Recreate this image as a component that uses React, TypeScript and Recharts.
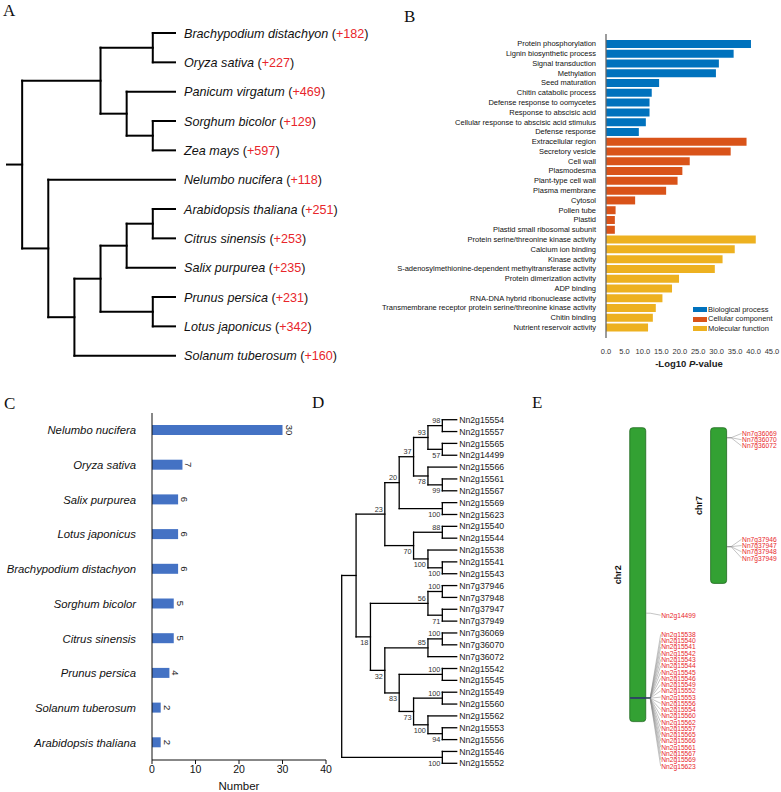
import React from "react"
import {
  BarChart, ComposedChart, Bar, XAxis, YAxis, Scatter,
  ReferenceLine, LabelList, Legend, Cell,
} from "recharts"

const FONT = "'Liberation Sans', Arial, sans-serif"

// ---------- A: species cladogram with gene gains
const A_SPECIES = [
  "Brachypodium distachyon", "Oryza sativa", "Panicum virgatum", "Sorghum bicolor",
  "Zea mays", "Nelumbo nucifera", "Arabidopsis thaliana", "Citrus sinensis",
  "Salix purpurea", "Prunus persica", "Lotus japonicus", "Solanum tuberosum",
]
const A_GAINS = [182, 227, 469, 129, 597, 118, 251, 253, 235, 231, 342, 160]

type TreeNode = { d: number; s?: number; c: (TreeNode | number)[] }

// d = node depth (column), leaves are indices into the species list
const A_TREE: TreeNode = {
  d: 0, c: [
    { d: 3, c: [{ d: 5, c: [0, 1] }, { d: 4, c: [2, { d: 5, c: [3, 4] }] }] },
    { d: 1, c: [5, { d: 2, c: [
      { d: 3, c: [{ d: 4, c: [{ d: 5, c: [6, 7] }, 8] }, { d: 5, c: [9, 10] }] },
      11,
    ] }] },
  ],
}
const A_LEAF_DEPTH = 5.85
const A_ROOT_STUB = -0.58

// ---------- B: GO enrichment
const B_TERMS = [
  "Protein phosphorylation", "Lignin biosynthetic process", "Signal transduction", "Methylation",
  "Seed maturation", "Chitin catabolic process", "Defense response to oomycetes",
  "Response to abscisic acid", "Cellular response to abscisic acid stimulus", "Defense response",
  "Extracellular region", "Secretory vesicle", "Cell wall", "Plasmodesma", "Plant-type cell wall",
  "Plasma membrane", "Cytosol", "Pollen tube", "Plastid", "Plastid small ribosomal subunit",
  "Protein serine/threonine kinase activity", "Calcium ion binding", "Kinase activity",
  "S-adenosylmethionine-dependent methyltransferase activity", "Protein dimerization activity",
  "ADP binding", "RNA-DNA hybrid ribonuclease activity",
  "Transmembrane receptor protein serine/threonine kinase activity", "Chitin binding",
  "Nutrient reservoir activity",
]
const B_VALUES = [
  39.3, 34.6, 30.6, 29.8, 14.4, 12.4, 11.8, 11.8, 10.8, 8.9,
  38.1, 33.8, 22.7, 20.7, 19.4, 16.3, 7.9, 2.6, 2.4, 2.4,
  40.6, 34.9, 31.6, 29.5, 19.8, 17.9, 15.3, 13.5, 12.7, 11.4,
]
const B_GROUPS = [
  0, 0, 0, 0, 0, 0, 0, 0, 0, 0,
  1, 1, 1, 1, 1, 1, 1, 1, 1, 1,
  2, 2, 2, 2, 2, 2, 2, 2, 2, 2,
]
const B_GROUP_LABELS = ["Biological process", "Cellular component", "Molecular function"]
const B_COLORS = ["#0072BD", "#D95319", "#EDB120"]
const B_TICKS = [0, 5, 10, 15, 20, 25, 30, 35, 40, 45]

// ---------- C: gene counts per species
const C_SPECIES = [
  "Nelumbo nucifera", "Oryza sativa", "Salix purpurea", "Lotus japonicus",
  "Brachypodium distachyon", "Sorghum bicolor", "Citrus sinensis", "Prunus persica",
  "Solanum tuberosum", "Arabidopsis thaliana",
]
const C_COUNTS = [30, 7, 6, 6, 6, 5, 5, 4, 2, 2]
const C_TICKS = [0, 10, 20, 30, 40]

// ---------- D: gene tree with bootstrap values
const D_GENES = [
  "Nn2g15554", "Nn2g15557", "Nn2g15565", "Nn2g14499", "Nn2g15566", "Nn2g15561",
  "Nn2g15567", "Nn2g15569", "Nn2g15623", "Nn2g15540", "Nn2g15544", "Nn2g15538",
  "Nn2g15541", "Nn2g15543", "Nn7g37946", "Nn7g37948", "Nn7g37947", "Nn7g37949",
  "Nn7g36069", "Nn7g36070", "Nn7g36072", "Nn2g15542", "Nn2g15545", "Nn2g15549",
  "Nn2g15560", "Nn2g15562", "Nn2g15553", "Nn2g15556", "Nn2g15546", "Nn2g15552",
]
const D_TREE: TreeNode = {
  d: 0, c: [
    { d: 1, c: [
      { d: 3, s: 23, c: [
        { d: 4, s: 20, c: [
          { d: 5, s: 37, c: [
            { d: 6, s: 93, c: [{ d: 7, s: 98, c: [0, 1] }, { d: 7, s: 57, c: [2, 3] }] },
            { d: 6, s: 78, c: [4, { d: 7, s: 99, c: [5, 6] }] },
          ] },
          { d: 7, s: 100, c: [7, 8] },
        ] },
        { d: 5, s: 70, c: [
          { d: 7, s: 88, c: [9, 10] },
          { d: 6, s: 100, c: [11, { d: 7, s: 100, c: [12, 13] }] },
        ] },
      ] },
      { d: 2, s: 18, c: [
        { d: 6, s: 56, c: [{ d: 7, s: 100, c: [14, 15] }, { d: 7, s: 71, c: [16, 17] }] },
        { d: 3, s: 32, c: [
          { d: 6, s: 85, c: [{ d: 7, s: 100, c: [18, 19] }, 20] },
          { d: 4, s: 83, c: [
            { d: 7, s: 100, c: [21, 22] },
            { d: 5, s: 73, c: [
              { d: 7, s: 100, c: [23, 24] },
              { d: 6, s: 100, c: [25, { d: 7, s: 94, c: [26, 27] }] },
            ] },
          ] },
        ] },
      ] },
    ] },
    { d: 7, s: 100, c: [28, 29] },
  ],
}
const D_LEAF_DEPTH = 8

// ---------- E: chromosome locations (Mb)
const E_CHR_NAMES = ["chr2", "chr7"]
const E_CHR_LENGTH = [114.4, 60.6]
const E_MB_TICKS = [0, 20, 40, 60, 80, 100, 120]
const E_LOCUS_CHR = [1, 1, 0, 0]
const E_LOCUS_MB = [3.9, 46.3, 72.2, 105.3]
const E_LOCUS_GENES = [
  ["Nn7g36069", "Nn7g36070", "Nn7g36072"],
  ["Nn7g37946", "Nn7g37947", "Nn7g37948", "Nn7g37949"],
  ["Nn2g14499"],
  [
    "Nn2g15538", "Nn2g15540", "Nn2g15541", "Nn2g15542", "Nn2g15543", "Nn2g15544",
    "Nn2g15545", "Nn2g15546", "Nn2g15549", "Nn2g15552", "Nn2g15553", "Nn2g15556",
    "Nn2g15554", "Nn2g15560", "Nn2g15562", "Nn2g15557", "Nn2g15565", "Nn2g15566",
    "Nn2g15561", "Nn2g15567", "Nn2g15569", "Nn2g15623",
  ],
]

// rectangular cladogram layout in data units (x = depth, y = leaf index)
type Seg = [number, number, number, number]
function layoutTree(tree: TreeNode, leafDepth: number) {
  const segs: Seg[] = []
  const support: { x: number; y: number; s: number; above: boolean }[] = []
  const walk = (n: TreeNode | number): { x: number; y: number } => {
    if (typeof n === "number") return { x: leafDepth, y: n }
    const kids = n.c.map(walk)
    const first = kids[0].y
    const last = kids[kids.length - 1].y
    segs.push([n.d, first, n.d, last])
    kids.forEach((k, i) => {
      segs.push([n.d, k.y, k.x, k.y])
      const child = n.c[i]
      if (typeof child !== "number" && child.s != null) {
        support.push({ x: child.d, y: k.y, s: child.s, above: i === 0 })
      }
    })
    return { x: n.d, y: (first + last) / 2 }
  }
  const root = walk(tree)
  return { segs, support, root }
}

const treeA = layoutTree(A_TREE, A_LEAF_DEPTH)
treeA.segs.push([A_ROOT_STUB, treeA.root.y, 0, treeA.root.y])
const treeD = layoutTree(D_TREE, D_LEAF_DEPTH)

const aLeaves = A_SPECIES.map((name, i) => ({ x: A_LEAF_DEPTH, y: i, name, gain: A_GAINS[i] }))
const dLeaves = D_GENES.map((name, i) => ({ x: D_LEAF_DEPTH, y: i, name }))

const bData = B_TERMS.map((name, i) => ({ name, value: B_VALUES[i], group: B_GROUPS[i] }))
const cData = C_SPECIES.map((name, i) => ({ name, n: C_COUNTS[i] }))

const eChroms = E_CHR_NAMES.map((name, i) => ({ pos: i, len: E_CHR_LENGTH[i], name }))
const eGenes = E_LOCUS_GENES.flatMap((genes, li) =>
  genes.map((name, slot) => ({
    pos: E_LOCUS_CHR[li], mb: E_LOCUS_MB[li], name, slot, n: genes.length,
  }))
)

function TreeLines({ segs, width }: { segs: Seg[]; width: number }) {
  return (
    <>
      {segs.map((s, i) => (
        <ReferenceLine
          key={i}
          segment={[{ x: s[0], y: s[1] }, { x: s[2], y: s[3] }]}
          stroke="#000"
          strokeWidth={width}
          strokeLinecap="square"
          ifOverflow="visible"
        />
      ))}
    </>
  )
}

// plain one-line category tick (Recharts would wrap long names)
const plainTick = (size: number, italic: boolean) => (p: any) => (
  <text x={p.x} y={p.y} textAnchor="end" dominantBaseline="central" fontSize={size}
    fontStyle={italic ? "italic" : "normal"} fill="#111" fontFamily={FONT}>
    {p.payload.value}
  </text>
)

function CValueLabel(p: any) {
  const x = p.x + p.width + 6.5
  const y = p.y + p.height / 2
  return (
    <text x={x} y={y} transform={`rotate(90, ${x}, ${y})`} textAnchor="middle"
      dominantBaseline="central" fontSize={9.5} fill="#222" fontFamily={FONT}>
      {p.value}
    </text>
  )
}

function MbTick(p: any) {
  return (
    <text x={p.x} y={p.y} transform={`rotate(90, ${p.x}, ${p.y})`} textAnchor="middle"
      dominantBaseline="central" fontSize={6.5} fill="#555" fontFamily={FONT}>
      {`${p.payload.value} Mb`}
    </text>
  )
}

function GeneMark(p: any) {
  const { cx, cy, payload } = p
  const ly = cy + 2 + (payload.slot - (payload.n - 1) / 2) * 6.27
  return (
    <g>
      {payload.n > 4 && (
        <line x1={cx - 8} y1={cy} x2={cx + 12} y2={cy} stroke="#2f4a66" strokeWidth={0.8} />
      )}
      <polyline points={`${cx + 8},${cy} ${cx + 12},${cy} ${cx + 22.5},${ly}`}
        fill="none" stroke="#8a8a8a" strokeWidth={0.5} />
      <text x={cx + 23} y={ly} dominantBaseline="central" fontSize={6.7}
        fill="#e8262b" fontFamily={FONT}>
        {payload.name}
      </text>
    </g>
  )
}

function BLegend() {
  return (
    <div style={{ fontFamily: FONT, fontSize: 7.5, color: "#222", lineHeight: "9.35px" }}>
      {B_GROUP_LABELS.map((g, i) => (
        <div key={g} style={{ display: "flex", alignItems: "center", whiteSpace: "nowrap" }}>
          <span style={{ display: "inline-block", width: 14, height: 5, background: B_COLORS[i], marginRight: 1 }} />
          {g}
        </div>
      ))}
    </div>
  )
}

const letter = (t: string, left: number, top: number) => (
  <div style={{
    position: "absolute", left, top, fontFamily: "'Liberation Serif', 'Times New Roman', serif",
    fontSize: 17, lineHeight: "17px", color: "#111",
  }}>{t}</div>
)

export default function App() {
  return (
    <div style={{ position: "absolute", left: 0, top: 0, width: 781, height: 792, background: "#fff", overflow: "hidden" }}>
      {/* A */}
      <div style={{ position: "absolute", left: 0, top: 0 }}>
        <ComposedChart width={400} height={380} margin={{ top: 33, right: 225, bottom: 24.3, left: 7 }}>
          <XAxis type="number" dataKey="x" domain={[A_ROOT_STUB, A_LEAF_DEPTH]} hide />
          <YAxis type="number" dataKey="y" domain={[0, 11]} reversed hide />
          {TreeLines({ segs: treeA.segs, width: 2 })}
          <Scatter
            data={aLeaves}
            isAnimationActive={false}
            shape={(p: any) => (
              <text x={p.cx + 9} y={p.cy} dy="0.36em" fontSize={12.6} fill="#111" fontFamily={FONT}>
                <tspan fontStyle="italic">{p.payload.name}</tspan>
                <tspan> (</tspan>
                <tspan fill="#e8262b">+{p.payload.gain}</tspan>
                <tspan>)</tspan>
              </text>
            )}
          />
        </ComposedChart>
      </div>

      {/* B */}
      <div style={{ position: "absolute", left: 330, top: 20 }}>
        <BarChart width={451} height={360} data={bData} layout="vertical"
          margin={{ top: 14, right: 9, bottom: 2, left: 0 }}>
          <XAxis type="number" domain={[0, 45]} ticks={B_TICKS} allowDataOverflow
            tickFormatter={(v: number) => v.toFixed(1)} axisLine={false} tickLine={false}
            tickMargin={5} height={40}
            tick={{ fontSize: 7.5, fill: "#333", fontFamily: FONT }}
            label={{
              content: (p: any) => {
                const vb = p.viewBox
                return (
                  <text x={vb.x + vb.width / 2} y={vb.y + 29} textAnchor="middle"
                    fontSize={9.5} fontWeight="bold" fill="#222" fontFamily={FONT}>
                    -Log10 <tspan fontStyle="italic">P</tspan>-value
                  </text>
                )
              },
            }}
          />
          <YAxis type="category" dataKey="name" width={276} interval={0}
            padding={{ top: 4.9, bottom: 5.6 }} tickLine={false} tickMargin={4}
            axisLine={{ stroke: "#666", strokeWidth: 1.3 }}
            tick={plainTick(7.5, false)} />
          <Bar dataKey="value" barSize={8} isAnimationActive={false}>
            {bData.map((d, i) => <Cell key={i} fill={B_COLORS[d.group]} />)}
          </Bar>
          <Legend layout="horizontal" align="center" verticalAlign="middle"
            content={() => <BLegend />}
            wrapperStyle={{ left: 363, top: 285, width: 100 }} />
        </BarChart>
      </div>

      {/* C */}
      <div style={{ position: "absolute", left: 0, top: 400 }}>
        <BarChart width={340} height={392} data={cData} layout="vertical"
          margin={{ top: 13, right: 14, bottom: 2, left: 0 }}>
          <XAxis type="number" domain={[0, 40]} ticks={C_TICKS} allowDataOverflow height={30}
            tickSize={4} axisLine={{ stroke: "#111" }} tickLine={{ stroke: "#111" }}
            tick={{ fontSize: 10.5, fill: "#111", fontFamily: FONT }}
            label={{ value: "Number", position: "insideBottom", offset: 0, fontSize: 11.5, fill: "#111", fontFamily: FONT }} />
          <YAxis type="category" dataKey="name" width={152} interval={0} tickLine={false}
            tickMargin={10} axisLine={{ stroke: "#111" }}
            tick={plainTick(11.3, true)} />
          <Bar dataKey="n" fill="#4472C4" barSize={10} isAnimationActive={false}>
            <LabelList dataKey="n" content={CValueLabel} />
          </Bar>
        </BarChart>
      </div>

      {/* D */}
      <div style={{ position: "absolute", left: 300, top: 400 }}>
        <ComposedChart width={240} height={380} margin={{ top: 19.7, right: 83.3, bottom: 16.7, left: 41.7 }}>
          <XAxis type="number" dataKey="x" domain={[0, D_LEAF_DEPTH]} hide />
          <YAxis type="number" dataKey="y" domain={[0, D_GENES.length - 1]} reversed hide />
          {TreeLines({ segs: treeD.segs, width: 1.3 })}
          <Scatter
            data={dLeaves}
            isAnimationActive={false}
            shape={(p: any) => (
              <text x={p.cx + 2.5} y={p.cy} dy="0.36em" fontSize={8.7} fill="#222" fontFamily={FONT}>
                {p.payload.name}
              </text>
            )}
          />
          <Scatter
            data={treeD.support}
            isAnimationActive={false}
            shape={(p: any) => (
              <text x={p.cx - 2} y={p.payload.above ? p.cy - 2.5 : p.cy + 8.5} textAnchor="end"
                fontSize={7.3} fill="#333" fontFamily={FONT}>
                {p.payload.s}
              </text>
            )}
          />
        </ComposedChart>
      </div>

      {/* E */}
      <div style={{ position: "absolute", left: 540, top: 400 }}>
        <ComposedChart width={241} height={390} data={eChroms}
          margin={{ top: 27.7, right: 21.5, bottom: 54, left: 17.3 }}>
          <XAxis type="number" dataKey="pos" domain={[-1, 1.5]} hide />
          <YAxis type="number" dataKey="mb" domain={[0, 120]} ticks={E_MB_TICKS} reversed
            mirror width={0} tickSize={14.4} tickMargin={6}
            axisLine={{ stroke: "#666" }} tickLine={{ stroke: "#666" }} tick={MbTick} />
          <Bar dataKey="len" barSize={16} radius={3} fill="#33a133" stroke="#1f6a1f"
            strokeWidth={0.8} isAnimationActive={false}>
            <LabelList dataKey="name" content={(p: any) => {
              const x = p.x - 12
              const y = p.y + p.height / 2
              return (
                <text x={x} y={y} transform={`rotate(-90, ${x}, ${y})`} textAnchor="middle"
                  dominantBaseline="central" fontSize={9} fontWeight="bold" fill="#111" fontFamily={FONT}>
                  {p.value}
                </text>
              )
            }} />
          </Bar>
          <Scatter data={eGenes} dataKey="mb" isAnimationActive={false} shape={GeneMark} />
        </ComposedChart>
      </div>

      {letter("A", 3, 2)}
      {letter("B", 404, 8)}
      {letter("C", 4, 395)}
      {letter("D", 312, 394)}
      {letter("E", 532, 394)}
    </div>
  )
}
